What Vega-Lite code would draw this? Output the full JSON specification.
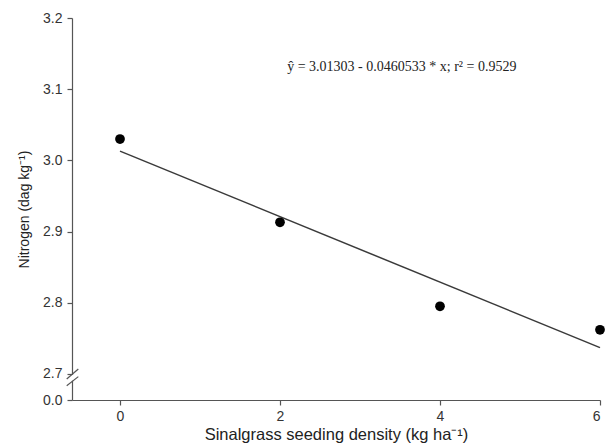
{
  "$schema": "https://vega.github.io/schema/vega-lite/v6.json",
  "autosize": "none",
  "width": 528,
  "height": 382,
  "padding": {"left": 72, "top": 18, "right": 5, "bottom": 46},
  "background": "white",
  "config": {
    "view": {"stroke": null},
    "axis": {
      "domainColor": "#555555",
      "tickColor": "#555555",
      "labelColor": "#333333",
      "titleColor": "#222222",
      "labelFont": "Liberation Sans",
      "titleFont": "Liberation Sans",
      "labelFontSize": 14,
      "titleFontSize": 14,
      "titleFontWeight": "normal",
      "grid": false,
      "tickSize": 5,
      "domainWidth": 1.2,
      "tickWidth": 1.2
    }
  },
  "datasets": {
    "points": [
      {"density": 0, "nitrogen": 3.030},
      {"density": 2, "nitrogen": 2.913},
      {"density": 4, "nitrogen": 2.795},
      {"density": 6, "nitrogen": 2.762}
    ],
    "fit": [
      {"density": 0, "nitrogen": 3.013},
      {"density": 6, "nitrogen": 2.737}
    ],
    "breaks": [
      {"x1": -0.666, "y1": 2.6930, "x2": -0.521, "y2": 2.7070},
      {"x1": -0.666, "y1": 2.6835, "x2": -0.521, "y2": 2.6962}
    ],
    "gap": [
      {"x1": -0.6, "y1": 2.6905, "x2": -0.6, "y2": 2.6985}
    ],
    "label": [
      {"density": 2.09, "nitrogen": 3.131, "text": "ŷ = 3.01303 - 0.0460533 * x; r² = 0.9529"}
    ]
  },
  "layer": [
    {
      "data": {"name": "fit"},
      "mark": {"type": "line", "color": "#3a3a3a", "strokeWidth": 1.5},
      "encoding": {
        "x": {
          "field": "density", "type": "quantitative",
          "scale": {"domain": [-0.6, 6], "nice": false, "zero": false},
          "axis": {"values": [0, 2, 4, 6], "title": "Sinalgrass seeding density (kg ha⁻¹)", "titleFontSize": 16.5, "labelPadding": 4, "titlePadding": 3, "format": "d"}
        },
        "y": {
          "field": "nitrogen", "type": "quantitative",
          "scale": {"domain": [2.6634, 3.2], "nice": false, "zero": false},
          "axis": {
            "values": [2.6634, 2.7, 2.8, 2.9, 3.0, 3.1, 3.2],
            "labelExpr": "datum.value < 2.69 ? '0.0' : format(datum.value, '.1f')",
            "title": "Nitrogen (dag kg⁻¹)",
            "labelPadding": 5,
            "titlePadding": 11
          }
        }
      }
    },
    {
      "data": {"name": "points"},
      "mark": {"type": "point", "filled": true, "color": "black", "opacity": 1, "size": 95},
      "encoding": {
        "x": {"field": "density", "type": "quantitative"},
        "y": {"field": "nitrogen", "type": "quantitative"}
      }
    },
    {
      "data": {"name": "gap"},
      "mark": {"type": "rule", "color": "white", "strokeWidth": 4, "clip": false},
      "encoding": {
        "x": {"field": "x1", "type": "quantitative"},
        "y": {"field": "y1", "type": "quantitative"},
        "y2": {"field": "y2"}
      }
    },
    {
      "data": {"name": "breaks"},
      "mark": {"type": "rule", "color": "#555555", "strokeWidth": 1.2, "clip": false},
      "encoding": {
        "x": {"field": "x1", "type": "quantitative"},
        "y": {"field": "y1", "type": "quantitative"},
        "x2": {"field": "x2"},
        "y2": {"field": "y2"}
      }
    },
    {
      "data": {"name": "label"},
      "mark": {"type": "text", "align": "left", "baseline": "middle", "font": "Liberation Serif", "fontSize": 14, "color": "#222222"},
      "encoding": {
        "x": {"field": "density", "type": "quantitative"},
        "y": {"field": "nitrogen", "type": "quantitative"},
        "text": {"field": "text"}
      }
    }
  ]
}
